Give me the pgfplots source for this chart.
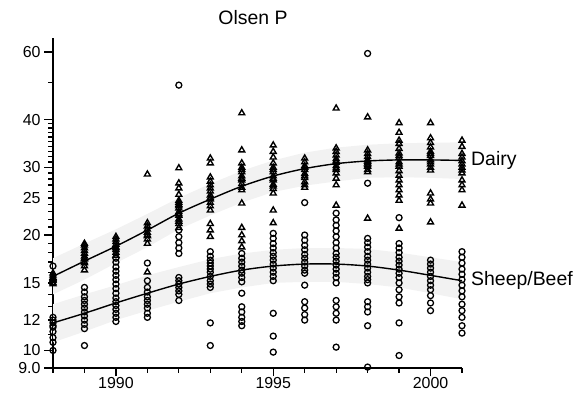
\documentclass[border=0pt]{standalone}
\usepackage{pgfplots}
\pgfplotsset{compat=1.18}
\usepackage{fontspec}
\setmainfont{Liberation Sans}
\begin{document}
\begin{tikzpicture}
\useasboundingbox (0,0) rectangle (584bp,395bp);
\begin{axis}[
  at={(53bp,27bp)}, anchor=south west,
  scale only axis, width=409bp, height=330bp,
  ymode=log, xmin=1988, xmax=2001, ymin=9, ymax=65.3,
  axis lines*=left, axis line style={line width=1.4pt},
  clip=false,
  xtick={1988,1989,1990,1991,1992,1993,1994,1995,1996,1997,1998,1999,2000,2001},
  xticklabels={,,1990,,,,,1995,,,,,2000,},
  ytick={9,10,11,12,13,14,15,16,17,18,19,20,21,22,23,24,25,26,27,28,29,30,31,32,33,34,35,36,37,38,39,40,50,60},
  yticklabels={9.0,10,,12,,,15,,,,,20,,,,,25,,,,,30,,,,,,,,,,40,,60},
  extra x ticks={1990,1995,2000}, extra x tick labels={},
  extra x tick style={major tick length=8.5bp},
  extra y ticks={10,20,30,40,60}, extra y tick labels={},
  extra y tick style={major tick length=9bp},
  tick align=outside, major tick length=5bp,
  tick style={black, line width=1.3pt},
  /pgf/number format/assume math mode=true,
  tick label style={font=\fontsize{16}{16}\selectfont},
  xticklabel style={yshift=-3bp, inner sep=1bp},
  yticklabel style={xshift=-4bp},
]
% confidence bands
\addplot[fill=gray!10, draw=none] coordinates {
(1988,17.4)(1989,19.0)(1990,20.7)(1991,22.7)(1992,25.0)(1993,27.2)(1994,29.4)(1995,31.3)(1996,32.8)(1997,33.8)(1998,34.4)(1999,34.7)(2000,34.8)(2001,34.9)
(2001,28.0)(2000,28.2)(1999,28.3)(1998,28.2)(1997,27.6)(1996,26.9)(1995,25.9)(1994,24.3)(1993,22.5)(1992,20.7)(1991,18.6)(1990,16.9)(1989,15.3)(1988,14.0)} --cycle;
\addplot[fill=gray!10, draw=none] coordinates {
(1988,13.2)(1989,14.0)(1990,14.8)(1991,15.7)(1992,16.5)(1993,17.3)(1994,17.9)(1995,18.3)(1996,18.5)(1997,18.5)(1998,18.4)(1999,18.0)(2000,17.5)(2001,17.0)
(2001,13.6)(2000,14.1)(1999,14.6)(1998,14.9)(1997,15.1)(1996,15.1)(1995,15.0)(1994,14.6)(1993,14.1)(1992,13.4)(1991,12.7)(1990,12.0)(1989,11.2)(1988,10.5)} --cycle;
% dairy points
\addplot[only marks, mark=triangle, mark size=3.4bp, line width=1.4pt, mark options={line width=1.4pt, black}] coordinates {
(1988,15.0)(1988,15.2)(1988,15.4)(1988,15.5)(1988,15.7)(1988,15.9)(1988,15.3)(1988,14.9)
(1989,16.2)(1989,16.6)(1989,17.0)(1989,17.3)(1989,17.6)(1989,17.9)(1989,18.2)(1989,18.5)(1989,18.8)(1989,19.0)(1989,16.9)(1989,17.4)
(1990,17.7)(1990,18.0)(1990,18.3)(1990,18.6)(1990,18.9)(1990,19.2)(1990,19.5)(1990,19.8)(1990,18.5)
(1991,28.8)(1991,19.0)(1991,19.5)(1991,19.9)(1991,20.3)(1991,20.7)(1991,21.1)(1991,21.5)(1991,16.0)(1991,20.0)
(1992,29.9)(1992,27.3)(1992,26.5)(1992,25.5)(1992,24.6)(1992,24.0)(1992,23.5)(1992,23.0)(1992,22.5)(1992,22.0)(1992,21.4)(1992,20.9)(1992,23.8)(1992,22.7)(1992,24.3)(1992,21.7)
(1993,31.7)(1993,30.8)(1993,28.3)(1993,27.0)(1993,26.0)(1993,25.4)(1993,24.8)(1993,24.3)(1993,23.8)(1993,23.2)(1993,21.4)(1993,20.6)(1993,19.8)(1993,25.0)(1993,27.6)(1993,26.5)
(1994,41.6)(1994,33.3)(1994,30.8)(1994,30.0)(1994,29.2)(1994,28.5)(1994,27.8)(1994,27.2)(1994,26.6)(1994,26.2)(1994,24.2)(1994,20.9)(1994,20.0)(1994,19.3)(1994,18.6)(1994,29.6)(1994,28.1)
(1995,34.3)(1995,33.0)(1995,31.9)(1995,30.8)(1995,30.0)(1995,29.2)(1995,28.5)(1995,27.8)(1995,27.1)(1995,26.4)(1995,25.7)(1995,23.2)(1995,21.5)(1995,29.6)(1995,28.1)(1995,26.8)
(1996,31.7)(1996,31.0)(1996,30.3)(1996,29.6)(1996,28.9)(1996,28.2)(1996,27.5)(1996,27.0)(1996,26.6)(1996,30.0)(1996,28.5)
(1997,42.8)(1997,33.7)(1997,33.0)(1997,32.3)(1997,31.6)(1997,30.9)(1997,30.3)(1997,29.6)(1997,29.0)(1997,28.1)(1997,27.0)(1997,23.9)(1997,31.2)(1997,29.9)
(1998,40.6)(1998,33.3)(1998,32.6)(1998,32.0)(1998,31.4)(1998,30.8)(1998,30.2)(1998,29.6)(1998,29.2)(1998,22.1)(1998,31.1)(1998,30.5)
(1999,39.2)(1999,37.0)(1999,35.3)(1999,34.6)(1999,33.6)(1999,32.7)(1999,31.8)(1999,31.0)(1999,30.2)(1999,29.4)(1999,28.6)(1999,27.8)(1999,27.0)(1999,26.2)(1999,25.4)(1999,24.6)(1999,20.8)(1999,32.2)(1999,30.6)
(2000,39.2)(2000,35.8)(2000,34.8)(2000,33.9)(2000,33.0)(2000,32.2)(2000,31.4)(2000,30.6)(2000,30.0)(2000,29.5)(2000,25.7)(2000,24.8)(2000,24.2)(2000,21.6)(2000,32.6)(2000,31.0)
(2001,35.3)(2001,34.0)(2001,32.6)(2001,31.9)(2001,31.2)(2001,30.6)(2001,30.0)(2001,29.5)(2001,29.0)(2001,27.8)(2001,27.0)(2001,26.2)(2001,23.9)
};
% sheep/beef points
\addplot[only marks, mark=o, mark size=3bp, line width=1.3pt, mark options={line width=1.3pt, black}] coordinates {
(1988,16.6)(1988,12.2)(1988,12.0)(1988,11.8)(1988,11.6)(1988,11.5)(1988,11.2)(1988,10.8)(1988,10.5)(1988,10.0)
(1989,14.6)(1989,14.2)(1989,13.8)(1989,13.5)(1989,13.2)(1989,12.9)(1989,12.6)(1989,12.3)(1989,12.0)(1989,11.7)(1989,11.4)(1989,10.3)
(1990,17.4)(1990,17.0)(1990,16.5)(1990,16.1)(1990,15.7)(1990,15.3)(1990,14.9)(1990,14.5)(1990,14.1)(1990,13.7)(1990,13.4)(1990,13.1)(1990,12.8)(1990,12.5)(1990,12.2)(1990,11.9)
(1991,16.9)(1991,15.2)(1991,14.6)(1991,14.2)(1991,13.8)(1991,13.5)(1991,13.2)(1991,12.9)(1991,12.5)(1991,12.2)
(1992,49.2)(1992,20.6)(1992,19.8)(1992,19.1)(1992,18.5)(1992,17.9)(1992,15.5)(1992,15.2)(1992,14.9)(1992,14.6)(1992,14.3)(1992,14.0)(1992,13.5)
(1993,18.1)(1993,17.6)(1993,17.2)(1993,16.9)(1993,16.6)(1993,16.3)(1993,16.0)(1993,15.6)(1993,15.2)(1993,14.9)(1993,14.6)(1993,11.8)(1993,10.3)
(1994,17.9)(1994,17.4)(1994,17.0)(1994,16.6)(1994,16.2)(1994,15.9)(1994,15.5)(1994,15.1)(1994,14.1)(1994,13.0)(1994,12.6)(1994,12.2)(1994,11.9)(1994,11.6)
(1995,20.2)(1995,19.6)(1995,19.0)(1995,18.5)(1995,18.0)(1995,17.6)(1995,17.2)(1995,16.8)(1995,16.4)(1995,16.0)(1995,15.6)(1995,15.2)(1995,12.5)(1995,10.9)(1995,9.9)
(1996,24.3)(1996,20.0)(1996,19.4)(1996,18.8)(1996,18.3)(1996,17.8)(1996,17.4)(1996,17.0)(1996,16.6)(1996,16.2)(1996,15.9)(1996,14.8)(1996,13.4)(1996,12.9)(1996,12.4)(1996,12.0)
(1997,22.8)(1997,21.9)(1997,21.2)(1997,20.5)(1997,19.8)(1997,19.1)(1997,18.5)(1997,17.9)(1997,17.5)(1997,17.1)(1997,16.7)(1997,16.3)(1997,15.9)(1997,15.5)(1997,15.0)(1997,13.5)(1997,13.0)(1997,12.5)(1997,12.0)(1997,10.2)
(1998,59.5)(1998,27.3)(1998,19.6)(1998,19.1)(1998,18.6)(1998,18.1)(1998,17.6)(1998,17.2)(1998,16.8)(1998,16.4)(1998,16.0)(1998,15.6)(1998,15.3)(1998,15.0)(1998,13.4)(1998,13.0)(1998,12.6)(1998,11.6)(1998,9.05)
(1999,22.2)(1999,19.0)(1999,18.5)(1999,18.0)(1999,17.5)(1999,17.1)(1999,16.7)(1999,16.3)(1999,15.9)(1999,15.5)(1999,15.0)(1999,14.4)(1999,13.8)(1999,13.3)(1999,11.8)(1999,9.7)
(2000,17.2)(2000,16.8)(2000,16.4)(2000,16.0)(2000,15.6)(2000,15.2)(2000,14.8)(2000,14.4)(2000,13.9)(2000,13.3)(2000,12.7)
(2001,18.1)(2001,17.5)(2001,16.9)(2001,16.3)(2001,15.8)(2001,15.3)(2001,14.8)(2001,14.3)(2001,13.8)(2001,13.2)(2001,12.7)(2001,12.2)(2001,11.6)(2001,11.1)
};
% fitted curves
\addplot[black, line width=1.4pt, smooth] coordinates {
(1988,15.6)(1989,17.1)(1990,18.7)(1991,20.6)(1992,22.8)(1993,24.8)(1994,26.8)(1995,28.5)(1996,29.8)(1997,30.7)(1998,31.2)(1999,31.4)(2000,31.4)(2001,31.3)};
\addplot[black, line width=1.4pt, smooth] coordinates {
(1988,11.8)(1989,12.5)(1990,13.3)(1991,14.1)(1992,14.9)(1993,15.6)(1994,16.2)(1995,16.6)(1996,16.8)(1997,16.8)(1998,16.6)(1999,16.2)(2000,15.7)(2001,15.2)};
\node[anchor=west, font=\fontsize{19.5}{20}\selectfont, inner sep=0pt] at (axis cs:2001,31.3) [xshift=9bp] {Dairy};
\node[anchor=west, font=\fontsize{19.5}{20}\selectfont, inner sep=0pt] at (axis cs:2001,15.2) [xshift=9bp] {Sheep/Beef};
\end{axis}
\draw[line width=1.4pt] (44bp,27bp) -- (53bp,27bp);
\node[font=\fontsize{19.5}{19.5}\selectfont] at (253bp,377bp) {Olsen P};
\end{tikzpicture}
\end{document}
